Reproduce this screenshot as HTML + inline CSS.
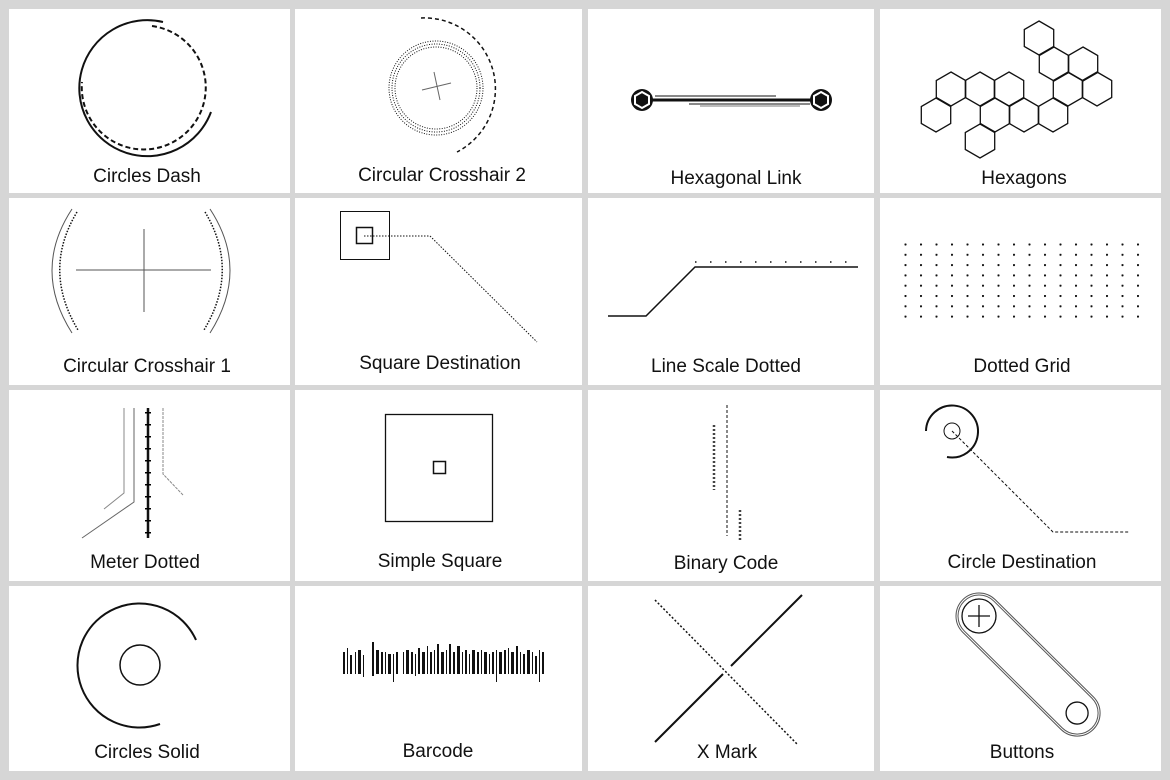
<!DOCTYPE html>
<html><head><meta charset="utf-8"><style>
html,body{margin:0;padding:0;background:#d6d6d6;}
svg{display:block}
text{font-family:"Liberation Sans",sans-serif;font-size:19px;fill:#111;text-anchor:middle}
</style></head><body>
<svg width="1170" height="780" viewBox="0 0 1170 780" xmlns="http://www.w3.org/2000/svg">
<defs>
<polygon id="hx" points="0,-17 14.7,-8.5 14.7,8.5 0,17 -14.7,8.5 -14.7,-8.5"/>
<pattern id="dg" x="904.5" y="243.5" width="15.5" height="10.3" patternUnits="userSpaceOnUse"><circle cx="1" cy="1" r="1.1" fill="#111"/></pattern>
</defs>
<rect width="1170" height="780" fill="#d6d6d6"/>
<g fill="#fff">
<rect x="9" y="9" width="281" height="184"/><rect x="295" y="9" width="287" height="184"/><rect x="588" y="9" width="286" height="184"/><rect x="880" y="9" width="281" height="184"/>
<rect x="9" y="198" width="281" height="187"/><rect x="295" y="198" width="287" height="187"/><rect x="588" y="198" width="286" height="187"/><rect x="880" y="198" width="281" height="187"/>
<rect x="9" y="390" width="281" height="191"/><rect x="295" y="390" width="287" height="191"/><rect x="588" y="390" width="286" height="191"/><rect x="880" y="390" width="281" height="191"/>
<rect x="9" y="586" width="281" height="185"/><rect x="295" y="586" width="287" height="185"/><rect x="588" y="586" width="286" height="185"/><rect x="880" y="586" width="281" height="185"/>
</g>
<g fill="none" stroke="#111">
<path d="M163 22 A68 68 0 1 0 211 112" stroke-width="2"/>
<path d="M152 26 A62 62 0 1 1 82 82" stroke-width="2" stroke-dasharray="5 3"/>
<circle cx="436" cy="88" r="47" stroke-dasharray="1 1.5" stroke-width="1"/>
<circle cx="436" cy="88" r="44" stroke-dasharray="1 1.5" stroke-width="1"/>
<circle cx="436" cy="88" r="41" stroke-dasharray="1 1.5" stroke-width="1"/>
<line x1="422" y1="90" x2="451" y2="83" stroke="#666"/>
<line x1="434" y1="72" x2="440" y2="100" stroke="#666"/>
<path d="M421 18 A71 71 0 0 1 457 152" stroke-width="1.5" stroke-dasharray="4 3"/>
<line x1="642" y1="100" x2="821" y2="100" stroke-width="3"/>
<line x1="655" y1="96" x2="776" y2="96" stroke-width="1"/>
<line x1="689" y1="104" x2="810" y2="104" stroke-width="1"/>
<line x1="700" y1="106" x2="800" y2="106" stroke-width="1" stroke="#777"/>
</g>
<circle cx="642" cy="100" r="11" fill="#111"/><circle cx="821" cy="100" r="11" fill="#111"/>
<polygon points="642,92 649,96 649,104 642,108 635,104 635,96" fill="none" stroke="#fff" stroke-width="2"/>
<polygon points="821,92 828,96 828,104 821,108 814,104 814,96" fill="none" stroke="#fff" stroke-width="2"/>
<g fill="none" stroke="#111" stroke-width="1.3">
<use href="#hx" x="1039" y="38"/>
<use href="#hx" x="1054" y="64"/><use href="#hx" x="1083" y="64"/>
<use href="#hx" x="951" y="89"/><use href="#hx" x="980" y="89"/><use href="#hx" x="1009" y="89"/><use href="#hx" x="1068" y="89"/><use href="#hx" x="1097" y="89"/>
<use href="#hx" x="936" y="115"/><use href="#hx" x="995" y="115"/><use href="#hx" x="1024" y="115"/><use href="#hx" x="1053" y="115"/>
<use href="#hx" x="980" y="141"/>
</g>
<g fill="none" stroke="#111">
<line x1="76" y1="270" x2="211" y2="270" stroke="#555"/>
<line x1="144" y1="229" x2="144" y2="312" stroke="#555"/>
<path d="M72 209 Q32 270 72 333" stroke="#555"/>
<path d="M77 212 Q42 270 78 330" stroke-dasharray="1.5 1.5" stroke-width="1.5"/>
<path d="M210 209 Q250 270 210 333" stroke="#555"/>
<path d="M205 212 Q240 270 204 330" stroke-dasharray="1.5 1.5" stroke-width="1.5"/>
<rect x="340.5" y="211.5" width="49" height="48"/>
<rect x="356.5" y="227.5" width="16" height="16" stroke-width="1.5"/>
<polyline points="364,236 430,236 537,342" stroke-dasharray="1.5 1.5"/>
<polyline points="608,316 646,316 695,267 858,267" stroke-width="1.5"/>
<line x1="695" y1="262" x2="858" y2="262" stroke-dasharray="1.5 13.5" stroke-width="1.5"/>
</g>
<rect x="904" y="243" width="240" height="80" fill="url(#dg)"/>
<g fill="none" stroke="#111">
<line x1="148" y1="408" x2="148" y2="538" stroke-width="2.5"/>
<line x1="148" y1="412" x2="148" y2="538" stroke="#000" stroke-width="6" stroke-dasharray="1.5 10.5"/>
<polyline points="124,408 124,493 104,509" stroke="#888"/>
<polyline points="134,408 134,502 82,538" stroke="#666"/>
<polyline points="163,408 163,474 183,495" stroke="#888" stroke-dasharray="3 1"/>
<rect x="385.5" y="414.5" width="107" height="107" stroke-width="1.3"/>
<rect x="433.5" y="461.5" width="12" height="12" stroke-width="1.5"/>
<line x1="727" y1="405" x2="727" y2="536" stroke-dasharray="3 2"/>
<line x1="714" y1="425" x2="714" y2="490" stroke-dasharray="2 2" stroke-width="2.5" stroke="#444"/>
<line x1="740" y1="510" x2="740" y2="540" stroke-dasharray="2 2" stroke-width="2.5" stroke="#444"/>
<path d="M926 431 A26 26 0 1 1 947 457" stroke-width="2"/>
<circle cx="952" cy="431" r="8"/>
<polyline points="952,431 1053,532 1130,532" stroke-dasharray="3 2"/>
<circle cx="140" cy="665" r="20" stroke-width="1.5"/>
<path d="M196 640 A62 62 0 1 0 160 724" stroke-width="2"/>
<line x1="802" y1="595" x2="731" y2="666" stroke-width="2"/>
<line x1="723" y1="674" x2="655" y2="742" stroke-width="2"/>
<line x1="655" y1="600" x2="798" y2="745" stroke-dasharray="2 2" stroke-width="1.5"/>
<g transform="translate(979,616) rotate(44.7)" stroke="#555">
<rect x="-23" y="-23" width="184" height="46" rx="23"/>
<rect x="-21" y="-21" width="180" height="42" rx="21"/>
<circle cx="0" cy="0" r="17" stroke="#111" stroke-width="1.3"/>
<circle cx="138" cy="0" r="11" stroke="#111" stroke-width="1.3"/>
</g>
<line x1="968" y1="616" x2="990" y2="616" stroke-width="1.3"/>
<line x1="979" y1="605" x2="979" y2="627" stroke-width="1.3"/>
</g>
<g fill="#111">
<rect x="343" y="652" width="2" height="22"/><rect x="347" y="648" width="1" height="26"/><rect x="350" y="655" width="2" height="19"/><rect x="355" y="652" width="1" height="22"/><rect x="358" y="650" width="3" height="24"/><rect x="363" y="655" width="1" height="22"/>
<rect x="372" y="642" width="2" height="34"/><rect x="376" y="650" width="3" height="24"/><rect x="381" y="652" width="2" height="22"/><rect x="385" y="652" width="1" height="22"/><rect x="388" y="654" width="3" height="20"/><rect x="393" y="654" width="1" height="28"/><rect x="396" y="652" width="2" height="22"/>
<rect x="403" y="652" width="1" height="22"/><rect x="406" y="650" width="3" height="24"/><rect x="411" y="652" width="2" height="22"/><rect x="415" y="654" width="1" height="22"/><rect x="418" y="648" width="2" height="26"/><rect x="422" y="652" width="3" height="22"/><rect x="427" y="646" width="1" height="28"/><rect x="430" y="652" width="2" height="22"/><rect x="434" y="650" width="1" height="24"/>
<rect x="437" y="644" width="2" height="30"/><rect x="441" y="652" width="3" height="22"/><rect x="446" y="650" width="1" height="24"/><rect x="449" y="644" width="2" height="30"/><rect x="453" y="652" width="2" height="22"/><rect x="457" y="646" width="3" height="28"/><rect x="462" y="652" width="1" height="22"/><rect x="465" y="650" width="2" height="24"/><rect x="469" y="654" width="1" height="20"/>
<rect x="472" y="650" width="3" height="24"/><rect x="477" y="652" width="2" height="22"/><rect x="481" y="650" width="1" height="24"/><rect x="484" y="652" width="3" height="22"/><rect x="489" y="654" width="1" height="20"/><rect x="492" y="652" width="2" height="22"/><rect x="496" y="650" width="1" height="32"/><rect x="499" y="652" width="3" height="22"/>
<rect x="504" y="650" width="2" height="24"/><rect x="508" y="648" width="1" height="26"/><rect x="511" y="652" width="3" height="22"/><rect x="516" y="646" width="2" height="28"/><rect x="520" y="652" width="1" height="22"/><rect x="523" y="654" width="2" height="20"/><rect x="527" y="650" width="3" height="24"/><rect x="532" y="652" width="1" height="22"/><rect x="535" y="656" width="2" height="18"/><rect x="539" y="650" width="1" height="32"/><rect x="542" y="652" width="2" height="22"/>
</g>
<text x="147" y="182">Circles Dash</text>
<text x="442" y="181">Circular Crosshair 2</text>
<text x="736" y="184">Hexagonal Link</text>
<text x="1024" y="184">Hexagons</text>
<text x="147" y="372">Circular Crosshair 1</text>
<text x="440" y="369">Square Destination</text>
<text x="726" y="372">Line Scale Dotted</text>
<text x="1022" y="372">Dotted Grid</text>
<text x="145" y="568">Meter Dotted</text>
<text x="440" y="567">Simple Square</text>
<text x="726" y="569">Binary Code</text>
<text x="1022" y="568">Circle Destination</text>
<text x="147" y="758">Circles Solid</text>
<text x="438" y="757">Barcode</text>
<text x="727" y="758">X Mark</text>
<text x="1022" y="758">Buttons</text>
</svg>
</body></html>
